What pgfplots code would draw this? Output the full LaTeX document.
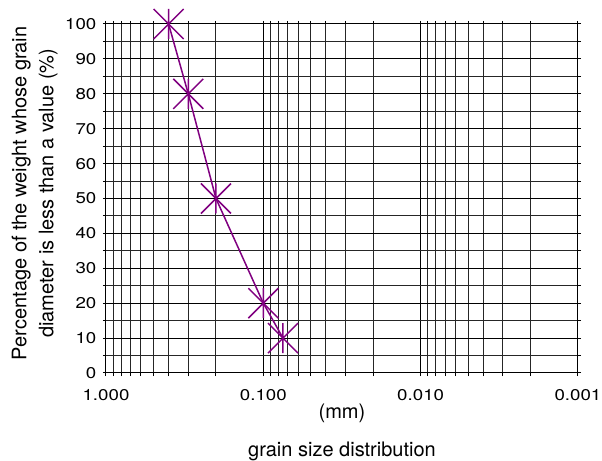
\documentclass[border=0pt]{standalone}
\usepackage{fontspec}
\setmainfont{TeX Gyre Heros}
\newfontfamily\tickfont[FakeStretch=1.2]{TeX Gyre Heros}
\usepackage{pgfplots}
\pgfplotsset{compat=1.18}
\definecolor{grainPurple}{RGB}{128,0,128}

% X with a vertical bar through it
\pgfdeclareplotmark{xstar}{%
  \pgfpathmoveto{\pgfqpoint{-\pgfplotmarksize}{-\pgfplotmarksize}}%
  \pgfpathlineto{\pgfqpoint{\pgfplotmarksize}{\pgfplotmarksize}}%
  \pgfpathmoveto{\pgfqpoint{-\pgfplotmarksize}{\pgfplotmarksize}}%
  \pgfpathlineto{\pgfqpoint{\pgfplotmarksize}{-\pgfplotmarksize}}%
  \pgfpathmoveto{\pgfqpoint{0pt}{-\pgfplotmarksize}}%
  \pgfpathlineto{\pgfqpoint{0pt}{\pgfplotmarksize}}%
  \pgfusepathqstroke}

\begin{document}
\begin{tikzpicture}
% page = 602x461 px at 0.5pt per px, axis box at (0,0)
\useasboundingbox (-53pt,-44pt) rectangle (248pt,186.5pt);
\begin{axis}[
    at={(0,0)}, anchor=south west,
    width=236pt, height=174.5pt,
    scale only axis,
    xmode=log,
    x dir=reverse,
    xmin=0.001, xmax=1,
    ymin=0, ymax=100,
    xtick={0.001,0.01,0.1,1},
    xticklabels={0.001,0.010,0.100,1.000},
    minor xtick={0.002,0.003,0.004,0.005,0.006,0.007,0.008,0.009,
                 0.02,0.03,0.04,0.05,0.06,0.07,0.08,0.09,
                 0.2,0.3,0.4,0.5,0.6,0.7,0.8,0.9},
    ytick={0,10,...,100},
    minor ytick={5,15,...,95},
    yticklabel={\pgfmathprintnumber[assume math mode=true]{\tick}},
    grid=both,
    major grid style={black, line width=0.5pt},
    minor grid style={black!85, line width=0.5pt},
    axis line style={black, line width=0.5pt},
    tick align=outside,
    major tick length=1.6pt,
    minor tick length=1.6pt,
    tick style={black, line width=0.5pt},
    tick label style={font=\tickfont\fontsize{7.8}{9}\selectfont},
    xticklabel style={yshift=-3pt},
    yticklabel style={xshift=0.3pt},
    label style={font=\fontsize{10}{13.5}\selectfont},
    xlabel={(mm)},
    xlabel style={at={(axis description cs:0.5,-0.115)}, anchor=center},
    ylabel={Percentage of the weight whose grain\\diameter is less than a value (\%)},
    ylabel style={align=center, at={(axis description cs:-0.151,0.515)}, anchor=center},
    clip=false,
    extra description/.code={
      \node[font=\fontsize{10}{12}\selectfont] at (axis description cs:0.5,-0.225) {grain size distribution};
    },
]
\addplot[grainPurple, line width=0.75pt, mark=xstar, mark size=7.5pt,
         mark options={line width=0.75pt}] coordinates {
  (0.4,100) (0.3,80) (0.2,50) (0.1,20) (0.075,10)
};
\end{axis}
\end{tikzpicture}
\end{document}
